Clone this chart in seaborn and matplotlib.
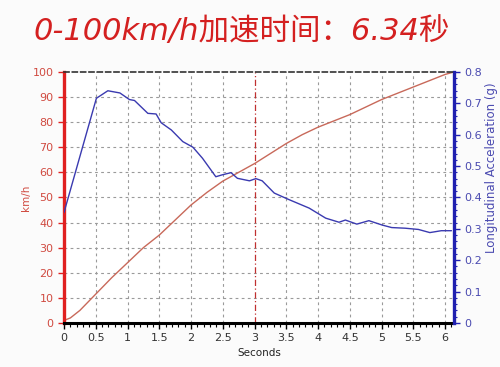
import numpy as np
import pandas as pd
import seaborn as sns
import matplotlib.pyplot as plt
from matplotlib.ticker import MultipleLocator

sns.set_style("white")
plt.rcParams['font.family'] = ['DejaVu Sans', 'Noto Sans CJK SC']

# speed curve (km/h)
speed_t = [0, 0.1, 0.25, 0.5, 0.75, 1.0, 1.25, 1.5, 1.75, 2.0, 2.25, 2.5, 2.75,
           3.0, 3.25, 3.5, 3.75, 4.0, 4.25, 4.5, 4.75, 5.0, 5.25, 5.5, 5.75,
           6.0, 6.14]
speed_v = [1, 2, 5, 11.5, 18, 24, 30, 35, 41, 47, 52, 56.5, 60, 63.5,
           67.5, 71.5, 75, 78, 80.5, 83, 86, 89, 91.5, 94, 96.5, 99, 100]

# longitudinal acceleration (g)
acc_t = [0, 0.51, 0.69, 0.88, 1.03, 1.11, 1.32, 1.45, 1.53, 1.69, 1.87, 2.03,
         2.18, 2.39, 2.49, 2.63, 2.73, 2.92, 3.02, 3.12, 3.31, 3.52, 3.86,
         4.12, 4.33, 4.43, 4.61, 4.8, 5.01, 5.16, 5.37, 5.58, 5.76, 5.94, 6.1]
acc_g = [0.352, 0.716, 0.74, 0.733, 0.712, 0.709, 0.668, 0.666, 0.638, 0.615,
         0.578, 0.56, 0.525, 0.466, 0.472, 0.479, 0.461, 0.453, 0.46, 0.453,
         0.414, 0.395, 0.366, 0.334, 0.321, 0.328, 0.315, 0.326, 0.312, 0.304,
         0.302, 0.298, 0.288, 0.294, 0.294]

title = "0-100km/h加速时间：6.34秒"

red = "#d42020"
line_red = "#c8695a"

fig = plt.figure(figsize=(5, 3.67), dpi=100, facecolor="#fbfbfb")
ax = fig.add_axes([0.128, 0.12, 0.78, 0.684])
ax2 = ax.twinx()

df_s = pd.DataFrame({"t": speed_t, "v": speed_v})
df_a = pd.DataFrame({"t": acc_t, "g": acc_g})
sns.lineplot(data=df_s, x="t", y="v", ax=ax, color=line_red, lw=1.0)
sns.lineplot(data=df_a, x="t", y="g", ax=ax2, color="#3a3ab0", lw=1.0)

ax.set_xlim(0, 6.14)
ax.set_ylim(0, 100)
ax2.set_ylim(0, 0.8)

# grid
for xv in np.arange(0.5, 6.01, 0.5):
    if xv == 3:
        continue
    ax.axvline(xv, color="#9a9a9a", ls=(0, (2.5, 3)), lw=0.8, zorder=0)
for yv in range(10, 100, 10):
    ax.axhline(yv, color="#9a9a9a", ls=(0, (2.5, 3)), lw=0.8, zorder=0)
ax.axvline(3, color="#c03030", ls=(0, (5, 2, 1, 2)), lw=0.9, zorder=0)

ax.xaxis.set_major_locator(MultipleLocator(0.5))
ax.xaxis.set_minor_locator(MultipleLocator(0.1))
ax.yaxis.set_major_locator(MultipleLocator(10))
ax2.yaxis.set_major_locator(MultipleLocator(0.1))
ax2.yaxis.set_minor_locator(MultipleLocator(0.02))
ax.set_xticks(np.arange(0, 6.01, 0.5))
ax.set_xticklabels(["0", "0.5", "1", "1.5", "2", "2.5", "3", "3.5", "4",
                    "4.5", "5", "5.5", "6"])
ax2.set_yticks(np.arange(0, 0.81, 0.1))
ax2.set_yticklabels(["0", "0.1", "0.2", "0.3", "0.4", "0.5", "0.6", "0.7", "0.8"])

for s in ["top", "right"]:
    ax.spines[s].set_visible(False)
ax2.spines["top"].set_linestyle((0, (3, 2)))
ax2.spines["top"].set_color("#333333")
ax2.spines["top"].set_linewidth(1.2)
ax2.spines["bottom"].set_visible(False)
ax2.spines["left"].set_visible(False)
ax.spines["left"].set_color("#e02020")
ax.spines["left"].set_linewidth(2.4)
ax.spines["bottom"].set_color("black")
ax.spines["bottom"].set_linewidth(2.2)
ax2.spines["right"].set_color("#2020b0")
ax2.spines["right"].set_linewidth(2.4)

ax.tick_params(axis="x", which="major", bottom=True, length=4.5, width=1,
               colors="black", labelsize=8, labelcolor="#333333",
               direction="out", pad=3)
ax.tick_params(axis="x", which="minor", bottom=True, length=3, width=0.8,
               colors="black")
ax.tick_params(axis="y", which="major", left=True, length=4, width=1,
               colors="#e02020", labelsize=8, labelcolor="#d04a40")
ax2.tick_params(axis="y", which="major", right=True, length=4, width=1,
                colors="#2020b0", labelsize=8, labelcolor="#4a4ab0")
ax2.tick_params(axis="y", which="minor", right=True, length=2.5, width=0.8,
                colors="#2020b0")

ax.set_xlabel("Seconds", fontsize=7.5, color="#222222", labelpad=3)
ax.set_ylabel("km/h", fontsize=7.5, color="#d04a40", labelpad=1)
ax2.set_ylabel("Longitudinal Acceleration (g)", fontsize=8.5, color="#4a4ab0")
ax2.yaxis.set_label_coords(1.08, 0.62)

fig.text(0.483, 0.915, title, ha="center", va="center", fontsize=22,
         color=red, style="italic")

fig.savefig("out.png", dpi=100, facecolor=fig.get_facecolor())
